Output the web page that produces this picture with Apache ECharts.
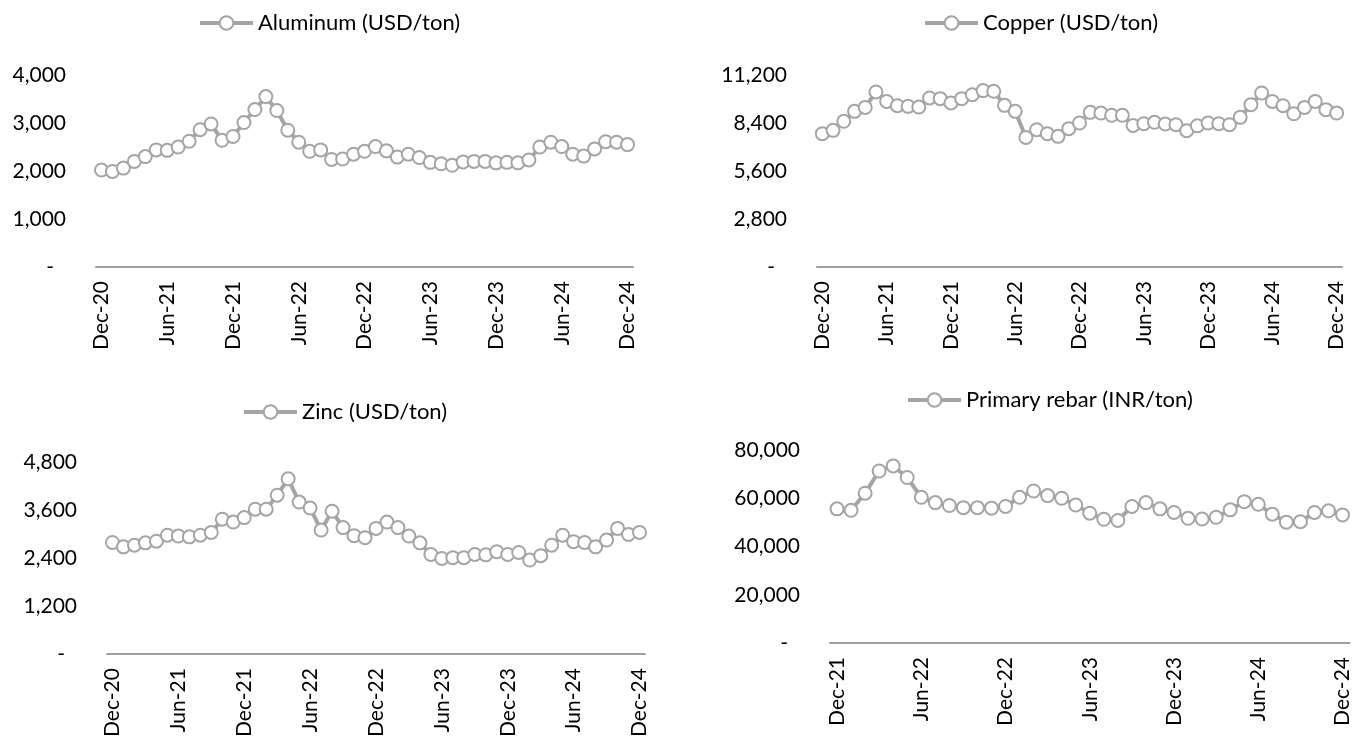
<!DOCTYPE html>
<html>
<head>
<meta charset="utf-8">
<title>Metal prices</title>
<script src="https://cdn.jsdelivr.net/npm/echarts@6/dist/echarts.min.js"></script>
<style>
  html, body { margin: 0; padding: 0; background: #ffffff; }
  #chart { width: 1353px; height: 740px; }
</style>
</head>
<body>
<div id="chart"></div>
<script>
// Monthly categories, Dec-20 .. Dec-24
const metalMonths = [
  'Dec-20',
  'Jan-21','Feb-21','Mar-21','Apr-21','May-21','Jun-21','Jul-21','Aug-21','Sep-21','Oct-21','Nov-21','Dec-21',
  'Jan-22','Feb-22','Mar-22','Apr-22','May-22','Jun-22','Jul-22','Aug-22','Sep-22','Oct-22','Nov-22','Dec-22',
  'Jan-23','Feb-23','Mar-23','Apr-23','May-23','Jun-23','Jul-23','Aug-23','Sep-23','Oct-23','Nov-23','Dec-23',
  'Jan-24','Feb-24','Mar-24','Apr-24','May-24','Jun-24','Jul-24','Aug-24','Sep-24','Oct-24','Nov-24','Dec-24'
];
// Rebar series starts at Dec-21
const rebarMonths = metalMonths.slice(12);

// Aluminum (USD/ton)
const aluminum = [2020,1990,2060,2200,2300,2440,2430,2500,2620,2860,2980,2640,2720,
  3010,3280,3550,3260,2850,2600,2410,2440,2240,2250,2350,2410,
  2510,2420,2290,2350,2280,2180,2150,2120,2190,2200,2200,2170,
  2180,2170,2230,2500,2600,2510,2350,2310,2460,2610,2600,2550];

// Copper (USD/ton)
const copper = [7780,7970,8500,9080,9310,10210,9660,9410,9370,9330,9860,9820,9570,
  9820,10050,10290,10250,9430,9080,7560,8010,7780,7620,8070,8400,
  9020,8980,8850,8850,8260,8360,8440,8340,8300,7950,8240,8400,
  8360,8300,8730,9470,10150,9660,9410,8940,9310,9660,9180,8980];

// Zinc (USD/ton)
const zinc = [2790,2680,2720,2780,2820,2970,2950,2930,2970,3040,3370,3300,3410,
  3620,3620,3970,4380,3800,3650,3100,3570,3160,2960,2910,3140,
  3300,3160,2950,2780,2490,2390,2410,2410,2490,2480,2560,2490,
  2540,2350,2460,2720,2970,2810,2790,2680,2850,3140,2990,3040];

// Primary rebar (INR/ton)
const rebar = [55600,55000,62100,71300,73400,68600,60400,58200,57000,56100,56100,55900,56600,
  60400,63000,61100,60000,57200,53800,51300,50800,56600,58200,55600,54100,
  51700,51400,52100,55200,58600,57500,53400,50100,50300,54100,54800,53100];

// Y-axis scales: [max, interval]
const aluminumScale = [4000, 1000];
const copperScale = [11200, 2800];
const zincScale = [4800, 1200];
const rebarScale = [80000, 20000];

const FONT = 'Lato';
const GREY = '#a5a5a5';

const panels = [
  { name: 'Aluminum (USD/ton)', cats: metalMonths, data: aluminum, scale: aluminumScale,
    grid: { left: 96, top: 75, width: 537, height: 192 }, legend: { left: 198, top: 12 } },
  { name: 'Copper (USD/ton)', cats: metalMonths, data: copper, scale: copperScale,
    grid: { left: 817, top: 75, width: 525, height: 192 }, legend: { left: 923, top: 12 } },
  { name: 'Zinc (USD/ton)', cats: metalMonths, data: zinc, scale: zincScale,
    grid: { left: 107, top: 462, width: 538, height: 193 }, legend: { left: 242, top: 401 } },
  { name: 'Primary rebar (INR/ton)', cats: rebarMonths, data: rebar, scale: rebarScale,
    grid: { left: 830, top: 450, width: 522, height: 193 }, legend: { left: 906, top: 389 } }
];

function yLabel(v) {
  return v === 0 ? '{z|-}' : v.toLocaleString('en-US');
}

const option = {
  animation: false,
  backgroundColor: '#ffffff',
  textStyle: { fontFamily: FONT },
  legend: panels.map(p => ({
    data: [p.name],
    left: p.legend.left,
    top: p.legend.top,
    padding: 0,
    itemWidth: 53,
    itemHeight: 17,
    itemGap: 0,
    selectedMode: false,
    lineStyle: { color: GREY, width: 4 },
    itemStyle: { borderColor: GREY, borderWidth: 3.5 },
    textStyle: { fontFamily: FONT, fontSize: 22, color: '#000000', padding: [0, 0, 0, 0] }
  })),
  grid: panels.map(p => Object.assign({ containLabel: false }, p.grid)),
  xAxis: panels.map((p, i) => ({
    type: 'category',
    gridIndex: i,
    data: p.cats,
    boundaryGap: true,
    axisLine: { show: true, lineStyle: { color: '#9f9f9f', width: 2 } },
    axisTick: { show: false },
    splitLine: { show: false },
    axisLabel: {
      interval: 5,
      rotate: 90,
      margin: 14,
      color: '#000000',
      fontFamily: FONT,
      fontSize: 21
    }
  })),
  yAxis: panels.map((p, i) => ({
    type: 'value',
    gridIndex: i,
    min: 0,
    max: p.scale[0],
    interval: p.scale[1],
    axisLine: { show: false },
    axisTick: { show: false },
    splitLine: { show: false },
    axisLabel: {
      margin: 30,
      color: '#000000',
      fontFamily: FONT,
      fontSize: 21,
      formatter: yLabel,
      rich: { z: { fontFamily: FONT, fontSize: 21, color: '#000000', padding: [0, 12, 0, 0] } }
    }
  })),
  series: panels.map((p, i) => ({
    name: p.name,
    type: 'line',
    xAxisIndex: i,
    yAxisIndex: i,
    data: p.data,
    symbol: 'emptyCircle',
    symbolSize: 13,
    showAllSymbol: true,
    lineStyle: { color: GREY, width: 4 },
    itemStyle: { color: GREY, borderColor: GREY, borderWidth: 3.5 },
    emphasis: { disabled: true }
  }))
};

const chart = echarts.init(document.getElementById('chart'), null, { renderer: 'canvas' });
chart.setOption(option);
</script>
</body>
</html>
